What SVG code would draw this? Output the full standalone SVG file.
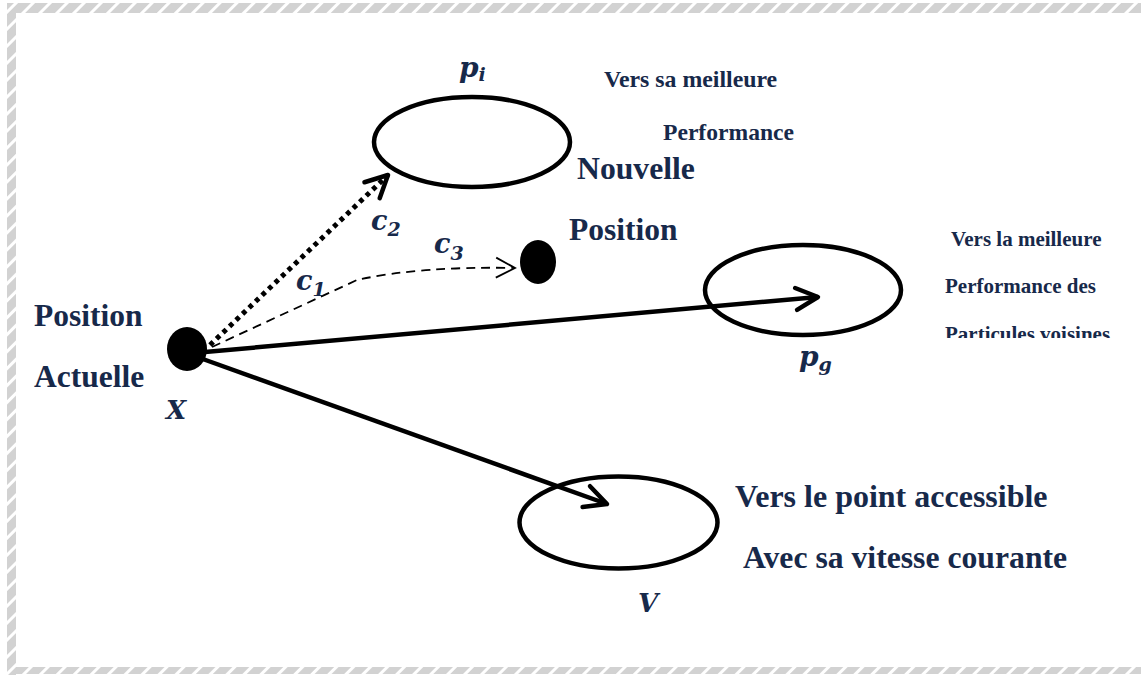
<svg xmlns="http://www.w3.org/2000/svg" width="1141" height="675" viewBox="0 0 1141 675">
<style>
.t{font-family:"Liberation Serif","Times New Roman",serif;font-weight:bold;fill:#17294a}
.m{font-family:"DejaVu Serif","Liberation Serif",serif;font-weight:bold;font-style:italic;fill:#17294a}
.ell{fill:none;stroke:#000;stroke-width:4.5}
.dot{fill:#000}
.solid{fill:none;stroke:#000;stroke-width:4.5}
</style>
<defs>
<pattern id="hatch" patternUnits="userSpaceOnUse" width="12" height="12" patternTransform="rotate(45)">
<rect width="12" height="12" fill="#d2d2d2"/>
<rect x="0" y="0" width="3" height="12" fill="#ffffff"/>
</pattern>
<marker id="chev" markerUnits="userSpaceOnUse" markerWidth="40" markerHeight="40" viewBox="-30 -20 40 40" refX="0" refY="0" orient="auto">
<path d="M-22,-11 L0,0 L-22,11" fill="none" stroke="#000" stroke-width="4.5" stroke-linecap="round" stroke-linejoin="round"/>
</marker>
<marker id="chevThin" markerUnits="userSpaceOnUse" markerWidth="30" markerHeight="30" viewBox="-25 -15 30 30" refX="0" refY="0" orient="auto">
<path d="M-19,-10 L0,0 L-19,10" fill="none" stroke="#000" stroke-width="1.8"/>
</marker>
<clipPath id="clipPart"><rect x="900" y="300" width="240" height="38"/></clipPath>
</defs>

<g id="border">
<rect x="7" y="3" width="1134" height="10" fill="url(#hatch)"/>
<rect x="7" y="3" width="9" height="672" fill="url(#hatch)"/>
<rect x="7" y="667" width="1134" height="7" fill="url(#hatch)"/>
</g>

<g id="connectors">
<line class="solid" x1="205" y1="352" x2="818" y2="297" marker-end="url(#chev)"/>
<line class="solid" x1="200" y1="358" x2="607" y2="504" marker-end="url(#chev)"/>
<path d="M210,345 L388,175" fill="none" stroke="#000" stroke-width="5" stroke-dasharray="4.5 4.5" marker-end="url(#chev)"/>
<path d="M212,347 L357,280 Q420,266 515,268" fill="none" stroke="#000" stroke-width="1.8" stroke-dasharray="9 6" marker-end="url(#chevThin)"/>
</g>

<g id="node-x">
<ellipse class="dot" cx="187" cy="349" rx="20" ry="22"/>
<text class="t" x="34" y="326" font-size="31.5">Position</text>
<text class="t" x="34" y="387" font-size="31.5">Actuelle</text>
<text class="m" x="166" y="419" font-size="26">X</text>
</g>

<g id="node-pi">
<ellipse class="ell" cx="472" cy="142" rx="98" ry="45"/>
<text class="m" x="459" y="77" font-size="28">p<tspan font-size="19" dy="4">i</tspan></text>
<text class="t" x="604" y="87" font-size="23.8">Vers sa meilleure</text>
<text class="t" x="663" y="140" font-size="23.6">Performance</text>
</g>

<g id="node-new">
<ellipse class="dot" cx="538" cy="262" rx="18" ry="22"/>
<text class="t" x="577" y="179" font-size="31.7">Nouvelle</text>
<text class="t" x="569" y="240" font-size="31.5">Position</text>
</g>

<g id="node-pg">
<ellipse class="ell" cx="803" cy="290" rx="98" ry="45"/>
<text class="m" x="799" y="366" font-size="28">p<tspan font-size="19" dy="5">g</tspan></text>
<text class="t" x="951" y="246" font-size="21">Vers la meilleure</text>
<text class="t" x="945" y="293" font-size="21">Performance des</text>
<text class="t" x="945" y="341" font-size="21" clip-path="url(#clipPart)">Particules voisines</text>
</g>

<g id="node-v">
<ellipse class="ell" cx="618.5" cy="522.5" rx="99" ry="46"/>
<text class="m" x="638" y="612" font-size="26">V</text>
<text class="t" x="735" y="507" font-size="32">Vers le point accessible</text>
<text class="t" x="743" y="568" font-size="31.7">Avec sa vitesse courante</text>
</g>

<g id="labels">
<text class="m" x="371" y="230" font-size="27">c<tspan font-size="19" dy="6">2</tspan></text>
<text class="m" x="296" y="290" font-size="27">c<tspan font-size="19" dy="6">1</tspan></text>
<text class="m" x="434" y="253" font-size="27">c<tspan font-size="19" dy="7">3</tspan></text>
</g>
</svg>
